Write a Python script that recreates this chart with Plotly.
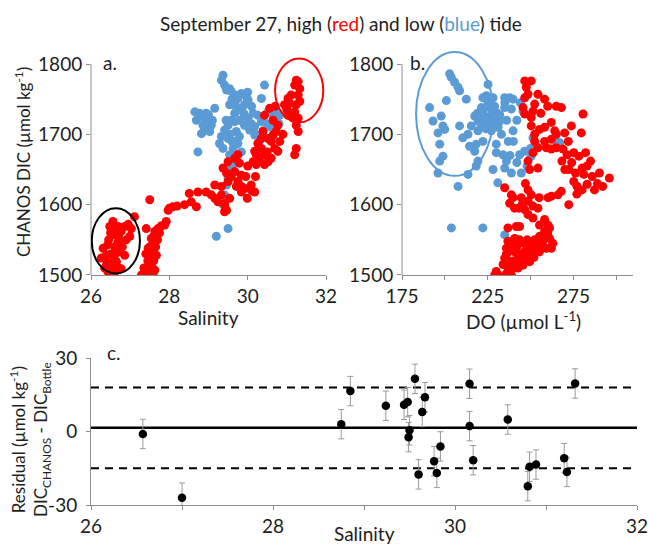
import plotly.graph_objects as go

# ---------------- Panel a: Salinity vs CHANOS DIC ----------------
a_red_sal = [26.48, 26.31, 26.26, 26.35, 26.52, 26.60, 26.69, 26.77, 26.86, 27.03, 27.11, 26.99, 26.56, 26.43,
             26.65, 26.73, 26.39, 26.77, 26.48, 26.86, 26.56, 26.69, 26.43,
             26.40, 26.50, 26.60, 26.70, 26.55, 26.62, 26.45, 26.80, 26.90, 26.35, 26.50, 26.65, 26.95, 26.58, 26.70,
             27.29, 27.37, 27.46, 27.54, 27.50, 27.54, 27.58, 27.54, 27.63, 27.71, 27.67, 27.41, 27.58, 27.63,
             27.46, 27.41, 27.92, 27.97, 28.09, 27.50, 27.88,
             27.35, 27.45, 27.50, 27.60, 27.55, 27.65, 27.70, 27.50, 27.60, 27.40, 27.75, 27.80, 28.00, 28.20,
             28.39, 28.56, 28.69, 28.51, 28.73, 28.94, 29.07, 29.16, 29.24, 29.16, 29.33, 29.41, 29.41, 29.54,
             29.33, 29.50, 29.37, 29.46, 29.58, 29.67, 29.75, 29.84, 29.71, 29.84, 29.92, 29.67, 29.79, 29.75,
             29.84, 30.09, 30.18, 29.99, 30.18, 30.14, 30.22, 30.35, 30.26, 30.43, 30.52, 30.60, 30.69, 30.77,
             30.82, 30.73, 30.77, 30.65, 30.52, 30.39, 30.35, 30.56, 30.43, 30.94, 31.03, 31.11, 31.07, 31.20,
             31.24, 31.29, 31.33, 31.29, 31.24, 31.20, 31.29, 31.24, 31.29, 31.24, 31.20, 31.33, 31.16, 31.03,
             30.22, 30.43, 29.50, 29.41, 29.46,
             29.95, 30.00, 30.20, 30.10, 30.30, 30.50, 30.60, 30.90, 31.00, 30.70, 30.65]
a_red_dic = [1569, 1538, 1524, 1510, 1502, 1528, 1547, 1562, 1569, 1566, 1583, 1555, 1557, 1543,
             1519, 1533, 1528, 1509, 1517, 1528, 1576, 1569, 1505,
             1515, 1530, 1540, 1555, 1512, 1505, 1550, 1540, 1550, 1525, 1560, 1565, 1572, 1520, 1510,
             1500, 1505, 1509, 1514, 1524, 1533, 1543, 1552, 1562, 1566, 1528, 1500, 1500, 1507,
             1538, 1566, 1576, 1592, 1597, 1607, 1571,
             1510, 1520, 1540, 1555, 1500, 1540, 1550, 1515, 1520, 1530, 1560, 1570, 1595, 1598,
             1600, 1604, 1597, 1616, 1618, 1618, 1614, 1609, 1604, 1628, 1614, 1602, 1590, 1609,
             1626, 1633, 1652, 1645, 1640, 1647, 1633, 1626, 1626, 1618, 1623, 1666, 1659, 1671,
             1642, 1628, 1618, 1609, 1676, 1661, 1671, 1680, 1687, 1671, 1661, 1666, 1680, 1676,
             1690, 1704, 1713, 1699, 1694, 1704, 1694, 1737, 1727, 1742, 1751, 1756, 1744, 1770,
             1777, 1775, 1765, 1756, 1742, 1732, 1723, 1713, 1704, 1680, 1671, 1747, 1723, 1727,
             1657, 1657, 1661, 1600, 1592,
             1640, 1655, 1640, 1620, 1665, 1675, 1690, 1700, 1735, 1740, 1720]

a_blue_sal = [28.65, 28.77, 28.86, 28.94, 28.99, 28.86, 28.94, 28.82, 29.07, 29.16, 28.73, 29.03, 28.69,
              29.37, 29.33, 29.41, 29.46, 29.54, 29.58, 29.67, 29.75, 29.84, 29.97, 30.01, 29.92, 29.79,
              29.67, 29.58, 29.50, 29.41, 29.33, 29.28, 29.50, 29.37, 29.54, 29.58, 29.54, 29.67, 29.71,
              29.75, 29.79, 29.92, 30.01, 30.09, 30.05, 30.14, 30.26, 30.35, 30.43, 30.52, 30.65, 30.73,
              30.82, 30.35, 30.18, 30.18, 29.46, 29.50, 29.46, 29.41, 29.50, 29.20, 29.37, 29.67, 29.63,
              29.84,
              29.60, 29.70, 29.90, 30.00, 30.10, 29.80, 30.20, 30.30, 30.40, 30.50, 30.60, 30.70, 30.80,
              29.45, 29.55, 29.60, 29.70, 29.60, 29.55, 28.90, 29.00, 29.10]
a_blue_dic = [1732, 1730, 1725, 1730, 1720, 1713, 1706, 1701, 1713, 1737, 1675, 1704, 1720,
              1784, 1777, 1770, 1763, 1765, 1761, 1756, 1751, 1758, 1753, 1749, 1742, 1737,
              1730, 1720, 1713, 1706, 1697, 1687, 1694, 1680, 1671, 1664, 1742, 1718, 1704,
              1687, 1697, 1713, 1723, 1715, 1706, 1730, 1727, 1751, 1770, 1732, 1727, 1723,
              1727, 1718, 1711, 1699, 1652, 1638, 1628, 1614, 1566, 1555, 1600, 1690, 1680,
              1675,
              1750, 1740, 1730, 1760, 1740, 1720, 1700, 1690, 1705, 1715, 1710, 1735, 1715,
              1720, 1700, 1690, 1660, 1650, 1640, 1705, 1728, 1720]

# ---------------- Panel b: DO vs CHANOS DIC ----------------
b_blue_do = [202.8, 203.8, 205.7, 207.7, 208.6, 212.5, 200.9, 191.1, 193.1, 197.9, 198.9, 199.9, 196.0,
             197.0, 198.9, 197.0, 196.0, 208.6, 210.5, 213.5, 215.4, 217.4, 219.3, 221.3, 222.2, 225.2,
             224.2, 225.2, 228.1, 226.1, 222.2, 219.3, 222.2, 218.3, 230.0, 232.0, 229.1, 227.1, 224.2,
             221.3, 234.9, 237.8, 239.8, 238.8, 239.8, 245.6, 234.9, 230.0, 230.0, 233.9, 235.9, 234.9,
             228.1, 230.9, 238.8, 244.6, 243.6, 246.5, 250.4, 251.4, 265.0, 267.0, 219.3, 218.3, 213.5,
             207.7, 203.8, 222.2, 234.9, 214.4, 217.4,
             226.0, 228.0, 230.0, 232.0, 227.0, 224.0, 229.0, 231.0, 233.0, 221.0, 219.0, 236.0, 235.0,
             242.0, 244.0, 240.0, 238.0, 242.0, 248.0, 250.0, 237.0]
b_blue_dic = [1786, 1781, 1774, 1767, 1762, 1750, 1748, 1738, 1719, 1726, 1712, 1707, 1702,
              1686, 1669, 1662, 1645, 1712, 1695, 1700, 1712, 1726, 1719, 1738, 1752, 1771,
              1755, 1745, 1752, 1738, 1731, 1705, 1690, 1686, 1731, 1719, 1712, 1705, 1719,
              1714, 1738, 1752, 1750, 1736, 1705, 1733, 1752, 1686, 1674, 1671, 1662, 1652,
              1650, 1631, 1645, 1645, 1671, 1676, 1669, 1695, 1690, 1688, 1662, 1655, 1643,
              1626, 1567, 1567, 1557, 1683, 1676,
              1725, 1730, 1722, 1728, 1715, 1708, 1740, 1710, 1700, 1725, 1730, 1720, 1745,
              1720, 1745, 1690, 1670, 1660, 1655, 1680, 1690]

b_red_do = [246.6, 250.4, 247.5, 246.6, 248.5, 245.6, 246.6, 250.4, 251.4, 252.4, 254.3, 258.2, 265.0,
            268.0, 280.6, 250.4, 252.4, 255.2, 258.2, 262.1, 264.1, 269.9, 273.8, 279.6, 252.4, 254.3,
            251.4, 258.2, 259.2, 262.1, 265.0, 268.9, 262.1, 254.3, 249.5, 248.5, 268.3, 271.3, 275.2,
            278.2, 282.1, 285.0, 272.3, 276.2, 280.1, 281.1, 275.2, 277.1, 280.1, 283.0, 290.2, 296.0,
            292.1, 287.3, 272.3, 267.9, 266.0, 262.1, 260.2, 234.9, 238.8, 237.8, 240.7, 239.8, 244.6,
            248.5, 250.4, 248.5, 246.6, 251.4, 254.3, 248.5, 241.7, 243.6, 251.4, 255.2, 258.2, 260.2,
            261.1, 258.2, 255.2, 252.4, 250.4, 248.5, 246.6, 242.7, 240.7, 236.8, 235.9, 235.9, 237.8,
            236.8, 234.9, 239.8, 241.7, 238.8, 235.9, 230.0, 229.1, 231.0, 243.6, 247.5, 251.4, 255.2,
            259.2, 262.1, 257.2, 261.1, 252.4, 249.5, 245.6, 242.7, 236.8, 236.8, 240.7, 243.6,
            238.0, 240.0, 244.0, 246.0, 248.0, 253.0, 256.0, 258.0, 260.0, 263.0, 236.0, 234.0, 242.0,
            250.0, 239.0, 245.0, 252.0, 243.0, 245.0, 255.0, 247.0, 270.0, 274.0, 283.0, 286.0, 289.0,
            277.0, 265.0, 272.0, 256.0, 260.0]
b_red_dic = [1776, 1776, 1767, 1752, 1757, 1738, 1729, 1724, 1733, 1743, 1757, 1750, 1740,
             1738, 1729, 1712, 1700, 1707, 1710, 1717, 1705, 1702, 1712, 1702, 1690, 1681,
             1674, 1690, 1681, 1679, 1681, 1679, 1693, 1652, 1650, 1662, 1662, 1671, 1674,
             1669, 1674, 1662, 1650, 1645, 1652, 1643, 1633, 1626, 1621, 1629, 1645, 1638,
             1626, 1621, 1600, 1619, 1614, 1612, 1610, 1624, 1614, 1602, 1595, 1610, 1610,
             1621, 1614, 1605, 1593, 1598, 1595, 1586, 1569, 1569, 1581, 1571, 1579, 1571,
             1567, 1562, 1555, 1550, 1543, 1538, 1533, 1529, 1533, 1548, 1538, 1529, 1519,
             1510, 1524, 1510, 1517, 1500, 1502, 1505, 1500, 1500, 1524, 1524, 1529, 1533,
             1538, 1538, 1548, 1552, 1538, 1519, 1514, 1510, 1538, 1567, 1552, 1550,
             1505, 1520, 1530, 1545, 1550, 1545, 1540, 1555, 1560, 1545, 1530, 1515, 1540,
             1535, 1545, 1515, 1525, 1595, 1600, 1610, 1630, 1650, 1660, 1655, 1640, 1630,
             1615, 1700, 1690, 1730, 1740]

# ---------------- Panel c: residuals ----------------
c_sal = [26.57, 27.00, 28.75, 28.85, 29.24, 29.44, 29.48, 29.50, 29.49, 29.56, 29.60, 29.64, 29.67,
         29.77, 29.80, 29.84, 30.16, 30.16, 30.20, 30.58, 30.80, 30.82, 30.89, 31.20, 31.23, 31.32]
c_resid = [-1.0, -27.0, 3.0, 16.5, 10.5, 10.9, 12.0, 0.5, -2.3, 21.5, -17.5, 8.0, 14.0,
           -12.1, -16.9, -6.1, 19.5, 2.2, -11.7, 4.9, -22.3, -14.4, -13.5, -10.9, -16.5, 19.6]
c_err = [6] * len(c_sal)
c_mean = 1.5
c_upper = 18.0
c_lower = -15.0
c_yticks = [-30, 0, 30]
c_yticktext = ["-30", "0", "30"]

RED = "#FF0000"
BLUE = "#5B9BD5"
AX = "#8C8C8C"
TXT = "#1E1E1E"
FONT = "Lato"
FS = 19

fig = go.Figure()

mk = 9
fig.add_trace(go.Scatter(x=a_blue_sal, y=a_blue_dic, mode="markers",
                         marker=dict(color=BLUE, size=mk), xaxis="x", yaxis="y"))
fig.add_trace(go.Scatter(x=a_red_sal, y=a_red_dic, mode="markers",
                         marker=dict(color=RED, size=mk), xaxis="x", yaxis="y"))
fig.add_trace(go.Scatter(x=b_blue_do, y=b_blue_dic, mode="markers",
                         marker=dict(color=BLUE, size=mk), xaxis="x2", yaxis="y2"))
fig.add_trace(go.Scatter(x=b_red_do, y=b_red_dic, mode="markers",
                         marker=dict(color=RED, size=mk), xaxis="x2", yaxis="y2"))

# panel c reference lines
for val, dash, w in [(c_mean, "solid", 2.5), (c_upper, "8px,6px", 2), (c_lower, "8px,6px", 2)]:
    fig.add_trace(go.Scatter(x=[26, 32], y=[val, val], mode="lines",
                             line=dict(color="black", width=w, dash=dash),
                             xaxis="x3", yaxis="y3"))
fig.add_trace(go.Scatter(x=c_sal, y=c_resid, mode="markers",
                         marker=dict(color="black", size=8.5),
                         error_y=dict(type="data", array=c_err, color="#9A9A9A", thickness=1, width=3),
                         xaxis="x3", yaxis="y3"))

W, H = 649, 546
def px(v):
    return v / W
def py(v):
    return (H - v) / H

tickfont = dict(family=FONT, size=FS, color=TXT)
axis_common = dict(showgrid=False, zeroline=False, showline=True, linecolor=AX, linewidth=1,
                   ticks="outside", ticklen=4, tickcolor=AX, tickwidth=1, tickfont=tickfont,
                   automargin=False)
minor_ticks = dict(ticks="outside", ticklen=4, tickcolor=AX, tickwidth=1, showgrid=False)

ydom_ab = [py(275), py(275 - 325 * 0.7033)]

fig.update_layout(
    width=W, height=H, margin=dict(l=0, r=0, t=0, b=0, autoexpand=False),
    paper_bgcolor="white", plot_bgcolor="white", showlegend=False,
    xaxis=dict(domain=[px(91), px(326)], range=[26, 32], tickvals=[26, 28, 30, 32],
               anchor="y", **axis_common),
    yaxis=dict(domain=ydom_ab, range=[1500, 1825], tickvals=[1500, 1600, 1700, 1800],
               anchor="x", **{**axis_common, "showline": False}),
    xaxis2=dict(domain=[px(402), px(633.4)], range=[175, 310],
                tickvals=[175, 225, 275], minor=dict(tick0=175, dtick=25, **minor_ticks),
                anchor="y2", **axis_common),
    yaxis2=dict(domain=ydom_ab, range=[1500, 1825], tickvals=[1500, 1600, 1700, 1800],
                anchor="x2", **{**axis_common, "showline": False}),
    xaxis3=dict(domain=[px(91), px(637)], range=[26, 32], tickvals=[26, 28, 30, 32],
                minor=dict(tick0=26, dtick=1, **minor_ticks), anchor="y3", **axis_common),
    yaxis3=dict(domain=[py(505), py(358)], range=[-30, 30], tickvals=c_yticks, ticktext=c_yticktext,
                anchor="x3", ticklabelstandoff=5, **axis_common),
)

# vertical axis lines for panels a and b (only up to 1800)
for xr, yr in [("x domain", "y"), ("x2 domain", "y2")]:
    fig.add_shape(type="line", xref=xr, yref=yr, x0=0, x1=0, y0=1500, y1=1800,
                  line=dict(color=AX, width=1))

# ellipses
fig.add_shape(type="circle", xref="x", yref="y", x0=26.02, x1=27.25, y0=1502, y1=1595,
              line=dict(color="black", width=2))
fig.add_shape(type="circle", xref="x", yref="y", x0=30.70, x1=31.93, y0=1717, y1=1808,
              line=dict(color=RED, width=2))
fig.add_shape(type="circle", xref="x2", yref="y2", x0=183.2, x1=228.3, y0=1641, y1=1817,
              line=dict(color=BLUE, width=2))

lab = dict(family=FONT, size=FS, color=TXT)
ylab = dict(family=FONT, size=17, color=TXT)
annots = [
    (dict(text='September 27, high (<span style="color:#FF0000">red</span>) and low '
               '(<span style="color:#5B9BD5">blue</span>) tide',
          x=px(341), y=py(24), xanchor="center", yanchor="middle"), lab),
    (dict(text="a.", x=px(101), y=py(62), xanchor="left", yanchor="middle"), lab),
    (dict(text="b.", x=px(408), y=py(62), xanchor="left", yanchor="middle"), lab),
    (dict(text="c.", x=px(105), y=py(353), xanchor="left", yanchor="middle"), lab),
    (dict(text="Salinity", x=px(208), y=py(318), xanchor="center", yanchor="middle"), lab),
    (dict(text="DO (µmol L<sup>-1</sup>)", x=px(523), y=py(320), xanchor="center", yanchor="middle"), lab),
    (dict(text="Salinity", x=px(364), y=py(533), xanchor="center", yanchor="middle"), lab),
    (dict(text="CHANOS DIC (µmol kg<sup>-1</sup>)", x=px(23), y=py(162), textangle=-90,
          xanchor="center", yanchor="middle"), ylab),
    (dict(text="Residual (µmol kg<sup>-1</sup>)<br>DIC<sub>CHANOS</sub> - DIC<sub>Bottle</sub>",
          x=px(30), y=py(440), textangle=-90, xanchor="center", yanchor="middle"), ylab),
]
for a, f in annots:
    fig.add_annotation(xref="paper", yref="paper", showarrow=False, font=f, **a)

fig.write_html("out.html")
